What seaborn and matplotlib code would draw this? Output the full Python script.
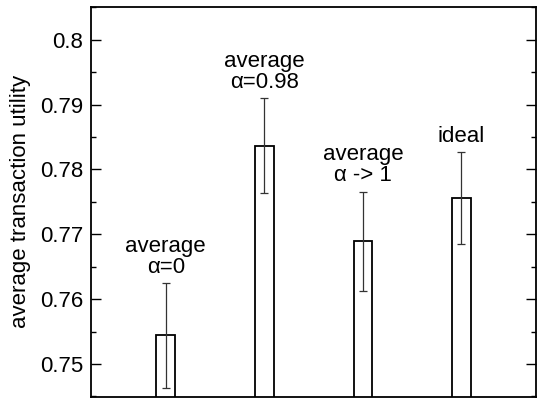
import numpy as np
import pandas as pd
import matplotlib
matplotlib.use('Agg')
import matplotlib.pyplot as plt
import seaborn as sns
from matplotlib.ticker import MultipleLocator

# values
labels = ['average\n\u03b1=0', 'average\n\u03b1=0.98', 'average\n\u03b1 -> 1', 'ideal']
utility = [0.7544, 0.7837, 0.7689, 0.7756]
errors = [0.0081, 0.0073, 0.0077, 0.0071]

sns.set_style('ticks')
plt.rcParams['font.family'] = ['Liberation Sans', 'DejaVu Sans']
plt.rcParams.update({'text.color': 'black', 'axes.labelcolor': 'black',
                     'xtick.color': 'black', 'ytick.color': 'black',
                     'axes.edgecolor': 'black'})

df = pd.DataFrame({'method': labels, 'utility': utility})

fig, ax = plt.subplots(figsize=(5.37, 4.01), dpi=100)
fig.subplots_adjust(left=0.17, right=0.998, top=0.983, bottom=0.01)

sns.barplot(data=df, x='method', y='utility', ax=ax, width=0.19,
            facecolor='white', edgecolor='black', linewidth=1.3, errorbar=None)

x = np.arange(len(labels))
ax.errorbar(x, utility, yerr=errors, fmt='none', ecolor='#333333',
            elinewidth=0.9, capsize=3, capthick=0.9)

for xi, lab, v, e in zip(x, labels, utility, errors):
    ax.text(xi, v + e + 0.0008, lab, ha='center', va='bottom',
            fontsize=16, linespacing=1.0)

ax.set_ylim(0.7449, 0.8051)
ax.set_xlim(-0.755, 3.755)
ax.yaxis.set_major_locator(MultipleLocator(0.01))
ax.yaxis.set_minor_locator(MultipleLocator(0.005))
ax.set_yticks([0.75, 0.76, 0.77, 0.78, 0.79, 0.8])
ax.set_yticklabels(['0.75', '0.76', '0.77', '0.78', '0.79', '0.8'])
ax.tick_params(axis='y', which='major', direction='in', length=7, width=1,
               labelsize=16, right=True, pad=6)
ax.tick_params(axis='y', which='minor', direction='in', length=3.5, width=1,
               right=True)
ax.set_xticks([])
ax.set_xlabel('')
ax.set_ylabel('average transaction utility', fontsize=16, labelpad=6)
for s in ax.spines.values():
    s.set_visible(True)
    s.set_linewidth(1.3)
    s.set_color('black')

plt.savefig('out.png', dpi=100)
